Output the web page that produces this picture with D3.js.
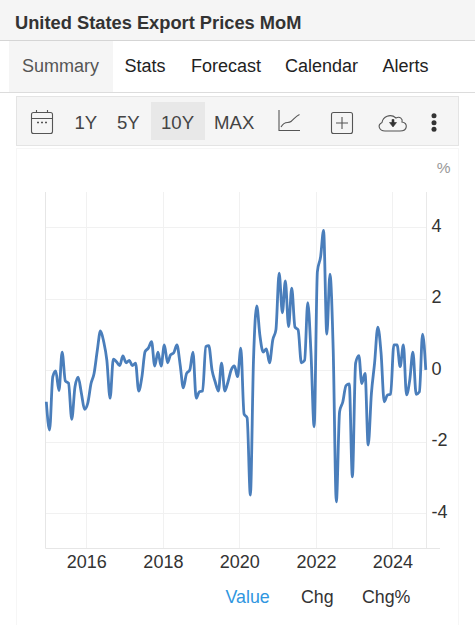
<!DOCTYPE html>
<html><head><meta charset="utf-8">
<script src="https://cdn.jsdelivr.net/npm/d3@7"></script>
<style>html,body{margin:0;padding:0;background:#fff}svg{display:block}text{font-family:"Liberation Sans",Arial,sans-serif}</style>
</head><body><svg id="c" width="475" height="625"></svg>
<script>
const title = "United States Export Prices MoM";
const tabs = ["Summary","Stats","Forecast","Calendar","Alerts"];
const ranges = ["1Y","5Y","10Y","MAX"];
const legendItems = ["Value","Chg","Chg%"];
const startDate = [2014, 11];
const values = [-0.86,-1.65,-0.16,0,-0.55,0.53,-0.28,-0.34,-1.35,-0.44,-0.17,-0.62,-1.07,-0.9,-0.35,-0.07,0.58,1.12,0.82,0.3,-0.76,0.33,0.26,0.15,0.42,0.23,0.3,0.15,0.22,-0.56,-0.16,0.54,0.64,0.82,0.14,0.53,0.14,0.73,0.23,0.45,0.51,0.73,0.17,-0.47,-0.07,0.03,0.53,-0.76,-0.58,-0.56,0.68,0.71,0.03,-0.3,-0.56,0.22,-0.56,-0.3,0.03,0.14,-0.16,0.64,-1.2,-1.31,-3.47,0.3,1.82,1.0,0.53,0.62,0.23,0.87,1.15,2.74,1.63,2.52,1.24,2.32,1.23,1.15,0.23,0.3,1.91,0.5,-1.56,2.78,3.2,3.93,1.03,2.71,0.59,-3.66,-1.14,-0.86,-0.41,-0.36,-2.96,0.22,0.43,-0.35,-0.07,-2.07,-0.62,0.22,1.23,0.5,-0.86,-0.67,-0.65,0.73,0.73,0.12,0.73,-0.67,-0.25,0.53,-0.65,-0.58,1.03,0.03];
const yTicks = [-4,-2,0,2,4];
const xTickYears = [2016,2018,2020,2022,2024];

const svg = d3.select("#c");
const rect=(x,y,w,h,f,s)=>svg.append("rect").attr("x",x).attr("y",y).attr("width",w).attr("height",h).attr("fill",f).attr("stroke",s||"none");
const txt=(x,y,t,size,fill,anchor,weight)=>svg.append("text").attr("x",x).attr("y",y).text(t).attr("font-size",size).attr("fill",fill).attr("text-anchor",anchor||"start").attr("font-weight",weight||"normal");

// header
rect(0,0,475,40,"#f5f5f5");
svg.append("line").attr("x1",0).attr("x2",475).attr("y1",40.5).attr("y2",40.5).attr("stroke","#d5d5d5");
txt(15,28.5,title,18.3,"#333","start","bold");
rect(9,41,104,51,"#f5f5f5");
svg.append("line").attr("x1",0).attr("x2",475).attr("y1",92.5).attr("y2",92.5).attr("stroke","#dcdcdc");
const tabX=[22,124.5,191,285,382.5];
tabs.forEach((t,i)=>txt(tabX[i],72,t,18,i?"#222":"#555"));

// toolbar
rect(16.5,96.5,442,49,"#f5f5f5","#e4e4e4");
rect(151,102,54,38,"#e8e8e8");
const rx=[74.5,117,161,214];
ranges.forEach((t,i)=>txt(rx[i],129.3,t,18.6,"#444"));
const ic=svg.append("g").attr("fill","none").attr("stroke","#555").attr("stroke-width",1.1);
ic.append("rect").attr("x",31.5).attr("y",112.5).attr("width",21).attr("height",21).attr("rx",2);
ic.append("path").attr("d","M31.5 118.5H52.5M36.5 110V113M47.5 110V113");
ic.append("path").attr("d","M37 122.5h2M41 122.5h2M45 122.5h2").attr("stroke-width",1.6);
ic.append("path").attr("d","M279 110V130.5H300M281 127C285 120 288 124 291 121.5S296 116 299.5 114.5");
ic.append("rect").attr("x",331.5).attr("y",112.5).attr("width",21).attr("height",21).attr("rx",2);
ic.append("path").attr("d","M342 117V129M336 123H348");
ic.append("path").attr("d","M385 131C379 131 377 125 382 122.5C383 117 390 113 396 118C400 116 403 119 402 122C408 123 408 131 400 131Z");
ic.append("path").attr("d","M389.5 122.5h7v0l-3.5 4.5zM392 119.5h2v4h-2z").attr("fill","#333").attr("stroke","#333").attr("stroke-width",.6);
svg.append("g").attr("fill","#333").selectAll("circle").data([115.7,122.7,129.3]).join("circle").attr("cx",434).attr("cy",d=>d).attr("r",2.5);

// chart panel
rect(16.5,148.5,442,480,"#fff","#f6f6f6");
txt(450.5,173,"%",15.5,"#999","end");

// scales: monthly values plotted at mid-month
const dates = values.map((_,i)=>new Date(startDate[0],startDate[1]+i,15));
const x = d3.scaleTime().domain([dates[0],dates[dates.length-1]]).range([46.3,425.8]);
const y = d3.scaleLinear().domain([-4,4]).range([514,228]);
const L=45,R=426,B=548,T=192;

// grid
const grid=svg.append("g").attr("stroke","#f1f1f1").attr("stroke-width",1);
grid.selectAll(".h").data(yTicks).join("line").attr("x1",L).attr("x2",R).attr("y1",d=>Math.round(y(d))-.5).attr("y2",d=>Math.round(y(d))-.5);
grid.selectAll(".v").data(xTickYears).join("line").attr("y1",T).attr("y2",B).attr("x1",d=>Math.round(x(new Date(d,0,1)))+.5).attr("x2",d=>Math.round(x(new Date(d,0,1)))+.5);
svg.append("path").attr("d",`M${L+.5} ${T}V${B+.5}H${R+14}`).attr("fill","none").attr("stroke","#e6e6e6");
svg.append("line").attr("x1",R+.5).attr("x2",R+.5).attr("y1",T).attr("y2",B).attr("stroke","#e9e9e9");

// axes
const yAxis=d3.axisRight(y).tickValues(yTicks).tickSize(0).tickPadding(5.5).tickFormat(d3.format("d"));
const gy=svg.append("g").attr("transform",`translate(${R},-2.5)`).call(yAxis);
gy.select(".domain").remove();
gy.selectAll("text").attr("font-size",18).attr("fill","#333").style("font-family","'Liberation Sans'").text(d=>String(d));
const xAxis=d3.axisBottom(x).tickValues(xTickYears.map(d=>new Date(d,0,1))).tickSize(0).tickPadding(7).tickFormat(d3.timeFormat("%Y"));
const gx=svg.append("g").attr("transform",`translate(0,${B})`).call(xAxis);
gx.select(".domain").remove();
gx.selectAll("text").attr("font-size",18).attr("fill","#333").style("font-family","'Liberation Sans'");

// line
svg.append("path").datum(values).attr("fill","none").attr("stroke","#4a7ebb").attr("stroke-width",2.8).attr("stroke-linejoin","round")
 .attr("d",d3.line().x((_,i)=>x(dates[i])).y(d=>y(d)).curve(d3.curveMonotoneX));

// legend
const lx=[225.5,301,362];
legendItems.forEach((t,i)=>txt(lx[i],603,t,17.8,i?"#333":"#2f96e0"));
</script></body></html>
